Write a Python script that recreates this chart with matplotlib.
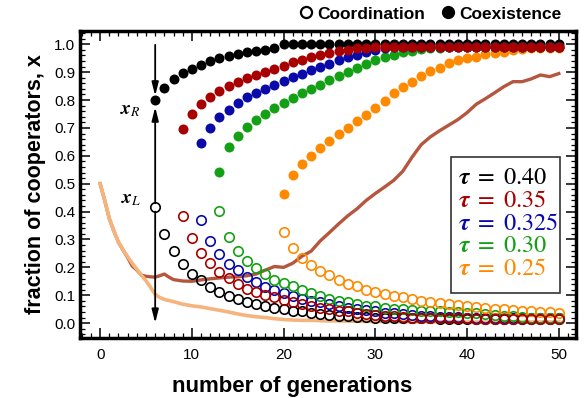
import numpy as np
import matplotlib.pyplot as plt
from matplotlib.lines import Line2D
from matplotlib.patches import Rectangle
from matplotlib.ticker import MultipleLocator

plt.rcParams["font.family"] = ["Liberation Sans", "DejaVu Sans"]
plt.rcParams["mathtext.fontset"] = "stix"

# === DATA ===
taus = ["0.40", "0.35", "0.325", "0.30", "0.25"]
colors = ["#000000", "#a80000", "#0a0aa8", "#14a014", "#ff8a00"]
first_gen = [6, 9, 11, 13, 20]

# stable branch (coexistence), filled markers
fill_040 = [0.800, 0.845, 0.875, 0.897, 0.913, 0.927, 0.940, 0.950, 0.958, 0.965,
            0.971, 0.976, 0.981, 0.986, 1.000, 1.000, 1.000, 1.000, 1.000, 1.000,
            1.000, 1.000, 1.000, 1.000, 1.000, 1.000, 1.000, 1.000, 1.000, 1.000,
            1.000, 1.000, 1.000, 1.000, 1.000, 1.000, 1.000, 1.000, 1.000, 1.000,
            1.000, 1.000, 1.000, 1.000, 1.000]
fill_035 = [0.695, 0.750, 0.785, 0.812, 0.833, 0.851, 0.865, 0.880, 0.891, 0.902,
            0.913, 0.923, 0.935, 0.945, 0.953, 0.962, 0.969, 0.976, 0.981, 0.985,
            0.988, 0.990, 0.991, 0.991, 0.992, 0.992, 0.992, 0.992, 0.992, 0.992,
            0.992, 0.992, 0.992, 0.992, 0.992, 0.992, 0.992, 0.992, 0.992, 0.992,
            0.992, 0.992]
fill_0325 = [0.645, 0.700, 0.741, 0.766, 0.789, 0.810, 0.825, 0.841, 0.855, 0.868,
             0.882, 0.894, 0.907, 0.919, 0.930, 0.944, 0.953, 0.963, 0.972, 0.981,
             0.986, 0.989, 0.990, 0.991, 0.991, 0.992, 0.992, 0.992, 0.992, 0.992,
             0.992, 0.992, 0.992, 0.992, 0.992, 0.992, 0.992, 0.992, 0.992, 0.992]
fill_030 = [0.543, 0.631, 0.672, 0.704, 0.728, 0.751, 0.772, 0.789, 0.806, 0.824,
            0.840, 0.855, 0.873, 0.887, 0.902, 0.916, 0.930, 0.943, 0.953, 0.963,
            0.971, 0.977, 0.982, 0.985, 0.987, 0.989, 0.990, 0.991, 0.991, 0.992,
            0.992, 0.992, 0.992, 0.992, 0.992, 0.992, 0.992, 0.992]
fill_025 = [0.463, 0.531, 0.570, 0.600, 0.629, 0.652, 0.677, 0.701, 0.724, 0.748,
            0.772, 0.796, 0.825, 0.848, 0.866, 0.886, 0.904, 0.916, 0.934, 0.944,
            0.952, 0.955, 0.964, 0.968, 0.974, 0.980, 0.983, 0.986, 0.987, 0.988,
            0.988]

# unstable branch (coordination), open markers
open_040 = [0.415, 0.321, 0.258, 0.212, 0.175, 0.153, 0.129, 0.111, 0.097, 0.086,
            0.076, 0.067, 0.062, 0.056, 0.051, 0.045, 0.042, 0.036, 0.032, 0.029,
            0.026, 0.024, 0.022, 0.021, 0.020, 0.019, 0.018, 0.018, 0.017, 0.017,
            0.017, 0.016, 0.016, 0.016, 0.016, 0.015, 0.015, 0.015, 0.015, 0.015,
            0.015, 0.015, 0.015, 0.015, 0.015]
open_035 = [0.385, 0.305, 0.253, 0.217, 0.185, 0.161, 0.140, 0.124, 0.111, 0.101,
            0.092, 0.083, 0.074, 0.069, 0.061, 0.056, 0.051, 0.045, 0.042, 0.038,
            0.033, 0.030, 0.026, 0.024, 0.022, 0.020, 0.019, 0.018, 0.018, 0.017,
            0.017, 0.017, 0.016, 0.016, 0.016, 0.016, 0.016, 0.016, 0.016, 0.016,
            0.016, 0.016]
open_0325 = [0.370, 0.295, 0.248, 0.213, 0.189, 0.165, 0.148, 0.131, 0.119, 0.109,
             0.098, 0.088, 0.081, 0.074, 0.068, 0.062, 0.056, 0.051, 0.046, 0.042,
             0.038, 0.035, 0.032, 0.029, 0.027, 0.025, 0.023, 0.022, 0.021, 0.020,
             0.019, 0.019, 0.018, 0.018, 0.018, 0.017, 0.017, 0.017, 0.017, 0.017]
open_030 = [0.403, 0.308, 0.259, 0.224, 0.196, 0.176, 0.155, 0.143, 0.134, 0.119,
            0.108, 0.098, 0.088, 0.081, 0.075, 0.068, 0.063, 0.060, 0.056, 0.052,
            0.049, 0.047, 0.044, 0.045, 0.043, 0.041, 0.039, 0.037, 0.035, 0.032,
            0.030, 0.027, 0.024, 0.022, 0.020, 0.019, 0.018, 0.017]
open_025 = [0.326, 0.268, 0.234, 0.210, 0.188, 0.171, 0.154, 0.142, 0.133, 0.120,
            0.113, 0.105, 0.099, 0.094, 0.087, 0.081, 0.075, 0.072, 0.068, 0.065,
            0.061, 0.057, 0.055, 0.052, 0.049, 0.047, 0.045, 0.043, 0.041, 0.040,
            0.038]

# simulation trajectories
traj_gen = [0, 0.5, 1, 1.5, 2, 2.5, 3, 3.5, 4, 4.5, 5, 5.5, 6, 6.5, 7, 7.5, 8, 9, 10,
            11, 12, 13, 14, 15, 16, 17, 18, 19, 20, 21, 22, 23, 24, 25, 26, 27, 28,
            29, 30, 31, 32, 33, 34, 35, 36, 37, 38, 39, 40, 41, 42, 43, 44, 45, 46,
            47, 48, 49, 50]
traj_up = [0.500, 0.440, 0.375, 0.330, 0.290, 0.262, 0.235, 0.205, 0.190, 0.172,
           0.168, 0.166, 0.165, 0.170, 0.176, 0.165, 0.156, 0.151, 0.150, 0.155,
           0.159, 0.162, 0.165, 0.166, 0.170, 0.176, 0.190, 0.203, 0.200, 0.215,
           0.240, 0.258, 0.295, 0.325, 0.356, 0.385, 0.410, 0.440, 0.465, 0.488,
           0.512, 0.545, 0.595, 0.640, 0.668, 0.690, 0.710, 0.730, 0.755, 0.785,
           0.805, 0.826, 0.848, 0.866, 0.866, 0.876, 0.890, 0.884, 0.895]
traj_down = [0.500, 0.440, 0.375, 0.330, 0.290, 0.262, 0.238, 0.215, 0.193, 0.172,
             0.152, 0.128, 0.103, 0.092, 0.085, 0.081, 0.077, 0.068, 0.062, 0.058,
             0.052, 0.046, 0.040, 0.033, 0.027, 0.023, 0.020, 0.016, 0.013, 0.011,
             0.010, 0.010, 0.009, 0.008, 0.008, 0.007, 0.007, 0.006, 0.006, 0.006,
             0.006, 0.005, 0.005, 0.005, 0.005, 0.005, 0.005, 0.004, 0.004, 0.004,
             0.004, 0.004, 0.004, 0.004, 0.004, 0.004, 0.004, 0.004, 0.004]

fills = [fill_040, fill_035, fill_0325, fill_030, fill_025]
opens = [open_040, open_035, open_0325, open_030, open_025]

# === PLOT ===
fig = plt.figure(figsize=(5.85, 3.98), dpi=100)
ax = fig.add_axes([0.137, 0.151, 0.848, 0.772])

ax.plot(traj_gen, traj_up, color="#b5563f", lw=2.4, zorder=2)
ax.plot(traj_gen, traj_down, color="#f5b47c", lw=2.6, zorder=2)

ms = 6.8
for i in [0, 2, 3, 4, 1]:
    g = np.arange(first_gen[i], first_gen[i] + len(opens[i]))
    ax.plot(g, opens[i], "o", ms=ms, mfc="none", mec=colors[i], mew=1.2, zorder=3)
for i in [0, 4, 3, 2, 1]:
    g = np.arange(first_gen[i], first_gen[i] + len(fills[i]))
    ax.plot(g, fills[i], "o", ms=ms + 0.4, color=colors[i], mec="none", zorder=4)

# arrows showing the flow toward x_R and away from x_L
g0 = first_gen[0]
xR = fill_040[0]
xL = open_040[0]
astyle = dict(arrowstyle="-|>,head_length=0.8,head_width=0.2", color="black",
              lw=1.3, shrinkA=0, shrinkB=0)
ax.annotate("", xy=(g0, xR + 0.015), xytext=(g0, 0.998), arrowprops=astyle, zorder=5)
ax.annotate("", xy=(g0, xR - 0.025), xytext=(g0, xL + 0.015), arrowprops=astyle, zorder=5)
ax.annotate("", xy=(g0, 0.0), xytext=(g0, xL - 0.015), arrowprops=astyle, zorder=5)
ax.text(g0 - 1.5, xR - 0.038, r"$\mathbfit{x}_{R}$", fontsize=14, ha="right", va="center")
ax.text(g0 - 1.5, xL + 0.027, r"$\mathbfit{x}_{L}$", fontsize=14, ha="right", va="center")

# tau legend box
ax.add_patch(Rectangle((0.747, 0.147), 0.221, 0.443, transform=ax.transAxes,
                       fill=False, edgecolor="#333333", lw=1.2, zorder=6))
ypos = [0.521, 0.446, 0.371, 0.299, 0.225]
for i in range(len(taus)):
    ax.text(0.762, ypos[i], r"$\boldsymbol{\tau}\ =\ \mathrm{" + taus[i] + "}$",
            transform=ax.transAxes, color=colors[i], fontsize=17.5,
            va="center", ha="left", zorder=7)

# top legend
handles = [Line2D([], [], marker="o", ls="none", ms=8, mfc="white", mec="black", mew=1.6),
           Line2D([], [], marker="o", ls="none", ms=8.5, color="black")]
ax.legend(handles, ["Coordination", "Coexistence"], loc="lower right",
          bbox_to_anchor=(0.995, 0.99), ncol=2, frameon=False, handletextpad=0.15,
          columnspacing=0.8, handlelength=1.0, borderpad=0.2,
          prop={"weight": "bold", "size": 12.5})

ax.set_xlim(-2.18, 51.9)
ax.set_ylim(-0.053, 1.049)
ax.xaxis.set_major_locator(MultipleLocator(10))
ax.xaxis.set_minor_locator(MultipleLocator(1))
ax.yaxis.set_minor_locator(MultipleLocator(0.02))
ax.set_yticks(np.arange(0, 1.01, 0.1))
ax.set_yticklabels([f"{v:.1f}" for v in np.arange(0, 1.01, 0.1)])
ax.tick_params(which="both", direction="in", top=True, right=True, labelsize=11)
ax.tick_params(which="major", length=7, width=1.1)
ax.tick_params(which="minor", length=3.5, width=0.9)
ax.tick_params(axis="x", pad=7)
for sp in ax.spines.values():
    sp.set_linewidth(2.5)

ax.set_xlabel("number of generations", fontsize=16, fontweight="bold")
ax.xaxis.set_label_coords(0.427, -0.125)
ax.set_ylabel("fraction of cooperators, x", fontsize=15.5, fontweight="bold", labelpad=6)

fig.savefig("out.png", dpi=100)
